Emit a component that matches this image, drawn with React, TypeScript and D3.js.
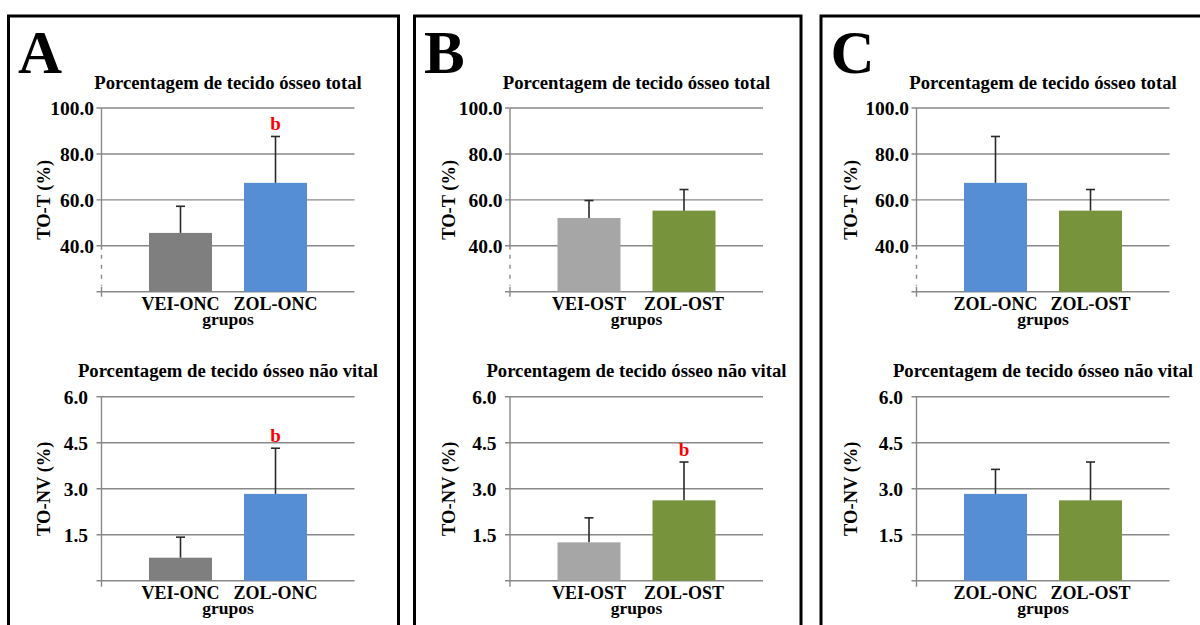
import React, { useEffect, useRef } from 'react';
import * as d3 from 'd3';

// panel letters and groups
const panelLetters = ['A', 'B', 'C'];
const groupsA = ['VEI-ONC', 'ZOL-ONC'];
const groupsB = ['VEI-OST', 'ZOL-OST'];
const groupsC = ['ZOL-ONC', 'ZOL-OST'];

// TO-T (%) means and +SD
const totalA = [45.6, 67.4];
const totalErrA = [11.6, 20.2];
const totalB = [52.1, 55.3];
const totalErrB = [7.6, 9.2];
const totalC = [67.4, 55.3];
const totalErrC = [20.2, 9.2];

// TO-NV (%) means and +SD
const nvA = [0.75, 2.83];
const nvErrA = [0.67, 1.49];
const nvB = [1.25, 2.62];
const nvErrB = [0.8, 1.25];
const nvC = [2.83, 2.62];
const nvErrC = [0.8, 1.25];

// significance letters
const sigTotalA = ['', 'b'];
const sigTotalB = ['', ''];
const sigTotalC = ['', ''];
const sigNvA = ['', 'b'];
const sigNvB = ['', 'b'];
const sigNvC = ['', ''];

const totalTicks = [40, 60, 80, 100];
const totalDomain = [20, 100];
const nvTicks = [1.5, 3.0, 4.5, 6.0];
const nvDomain = [0, 6];

const titleTotal = 'Porcentagem de tecido ósseo total';
const titleNv = 'Porcentagem de tecido ósseo não vital';
const yLabelTotal = 'TO-T (%)';
const yLabelNv = 'TO-NV (%)';
const xLabel = 'grupos';

const groupColors: Record<string, string> = {
  'VEI-ONC': '#7f7f7f',
  'ZOL-ONC': '#558ed5',
  'VEI-OST': '#a6a6a6',
  'ZOL-OST': '#77933c',
};

const FONT = '"Liberation Serif", "Times New Roman", serif';
const W = 1200;
const H = 625;
const PLOT_W = 253;

const panels = [
  { x0: 8.5, x1: 398.5, axisX: 101.5, yLabDx: -58, groups: groupsA,
    total: totalA, totalErr: totalErrA, sigTotal: sigTotalA, nv: nvA, nvErr: nvErrA, sigNv: sigNvA },
  { x0: 414.5, x1: 801, axisX: 510, yLabDx: -61, groups: groupsB,
    total: totalB, totalErr: totalErrB, sigTotal: sigTotalB, nv: nvB, nvErr: nvErrB, sigNv: sigNvB },
  { x0: 821, x1: 1215, axisX: 916.5, yLabDx: -66, groups: groupsC,
    total: totalC, totalErr: totalErrC, sigTotal: sigTotalC, nv: nvC, nvErr: nvErrC, sigNv: sigNvC },
];

type ChartOpts = {
  axisX: number;
  top: number;
  bottom: number;
  domain: number[];
  ticks: number[];
  title: string;
  yLabel: string;
  yLabDx: number;
  labelPad: number;
  groups: string[];
  values: number[];
  errs: number[];
  sig: string[];
  broken: boolean;
};

function drawChart(svg: any, o: ChartOpts) {
  const g = svg.append('g');
  const x = d3.scaleBand<string>()
    .domain(o.groups)
    .range([o.axisX, o.axisX + PLOT_W])
    .paddingInner(0.337)
    .paddingOuter(0.5);
  const y = d3.scaleLinear().domain(o.domain).range([o.bottom, o.top]);
  const grid = '#888888';

  // title
  g.append('text')
    .attr('x', o.axisX + PLOT_W / 2)
    .attr('y', o.top - 19.5)
    .attr('text-anchor', 'middle')
    .attr('font-family', FONT)
    .attr('font-weight', 'bold')
    .attr('font-size', 18.7)
    .text(o.title);

  // gridlines + ticks
  const lines = [o.domain[0], ...o.ticks];
  g.selectAll('line.grid')
    .data(lines)
    .enter().append('line')
    .attr('class', 'grid')
    .attr('x1', o.axisX - 5)
    .attr('x2', o.axisX + PLOT_W)
    .attr('y1', (d: number) => y(d))
    .attr('y2', (d: number) => y(d))
    .attr('stroke', grid)
    .attr('stroke-width', 1.4);

  g.selectAll('text.tick')
    .data(o.ticks)
    .enter().append('text')
    .attr('class', 'tick')
    .attr('x', o.axisX - o.labelPad)
    .attr('y', (d: number) => y(d))
    .attr('dy', '0.35em')
    .attr('text-anchor', 'end')
    .attr('font-family', FONT)
    .attr('font-weight', 'bold')
    .attr('font-size', 19.5)
    .text((d: number) => d3.format('.1f')(d));

  // y axis
  const base = y(o.domain[0]);
  if (o.broken) {
    const yb = y(o.ticks[0]);
    g.append('line').attr('x1', o.axisX).attr('x2', o.axisX)
      .attr('y1', o.top).attr('y2', yb + 4)
      .attr('stroke', grid).attr('stroke-width', 1.4);
    g.append('line').attr('x1', o.axisX).attr('x2', o.axisX)
      .attr('y1', yb + 9).attr('y2', base - 6)
      .attr('stroke', grid).attr('stroke-width', 1.4)
      .attr('stroke-dasharray', '4,6');
    g.append('line').attr('x1', o.axisX).attr('x2', o.axisX)
      .attr('y1', base - 5).attr('y2', base + 5)
      .attr('stroke', grid).attr('stroke-width', 1.4);
  } else {
    g.append('line').attr('x1', o.axisX).attr('x2', o.axisX)
      .attr('y1', o.top).attr('y2', base + 6)
      .attr('stroke', grid).attr('stroke-width', 1.4);
  }

  // y label
  const midY = (o.top + o.bottom) / 2;
  g.append('text')
    .attr('transform', `translate(${o.axisX + o.yLabDx},${midY}) rotate(-90)`)
    .attr('dy', '0.35em')
    .attr('text-anchor', 'middle')
    .attr('font-family', FONT)
    .attr('font-weight', 'bold')
    .attr('font-size', 18.5)
    .text(o.yLabel);

  // bars
  const data = o.groups.map((k, i) => ({ k, v: o.values[i], e: o.errs[i], s: o.sig[i] }));
  g.selectAll('rect.bar')
    .data(data)
    .enter().append('rect')
    .attr('class', 'bar')
    .attr('x', (d: any) => x(d.k))
    .attr('width', x.bandwidth())
    .attr('y', (d: any) => y(d.v))
    .attr('height', (d: any) => base - y(d.v))
    .attr('fill', (d: any) => groupColors[d.k]);

  // error bars (upper only)
  const eb = g.selectAll('g.err').data(data).enter().append('g').attr('class', 'err');
  eb.append('line')
    .attr('x1', (d: any) => x(d.k)! + x.bandwidth() / 2)
    .attr('x2', (d: any) => x(d.k)! + x.bandwidth() / 2)
    .attr('y1', (d: any) => y(d.v))
    .attr('y2', (d: any) => y(d.v + d.e))
    .attr('stroke', '#2a2a2a')
    .attr('stroke-width', 1.6);
  eb.append('line')
    .attr('x1', (d: any) => x(d.k)! + x.bandwidth() / 2 - 4.5)
    .attr('x2', (d: any) => x(d.k)! + x.bandwidth() / 2 + 4.5)
    .attr('y1', (d: any) => y(d.v + d.e))
    .attr('y2', (d: any) => y(d.v + d.e))
    .attr('stroke', '#2a2a2a')
    .attr('stroke-width', 1.6);

  // significance letters
  g.selectAll('text.sig')
    .data(data.filter((d) => d.s))
    .enter().append('text')
    .attr('class', 'sig')
    .attr('x', (d: any) => x(d.k)! + x.bandwidth() / 2)
    .attr('y', (d: any) => y(d.v + d.e) - 6.5)
    .attr('text-anchor', 'middle')
    .attr('font-family', FONT)
    .attr('font-weight', 'bold')
    .attr('font-size', 19)
    .attr('fill', '#ff0000')
    .text((d: any) => d.s);

  // category labels
  g.selectAll('text.cat')
    .data(o.groups)
    .enter().append('text')
    .attr('class', 'cat')
    .attr('x', (d: string) => x(d)! + x.bandwidth() / 2)
    .attr('y', base + 18.5)
    .attr('text-anchor', 'middle')
    .attr('font-family', FONT)
    .attr('font-weight', 'bold')
    .attr('font-size', 18)
    .text((d: string) => d);

  g.append('text')
    .attr('x', o.axisX + PLOT_W / 2)
    .attr('y', base + 33.5)
    .attr('text-anchor', 'middle')
    .attr('font-family', FONT)
    .attr('font-weight', 'bold')
    .attr('font-size', 17.5)
    .text(xLabel);
}

export default function App() {
  const ref = useRef<SVGSVGElement>(null);

  useEffect(() => {
    const svg = d3.select(ref.current);
    svg.selectAll('*').remove();

    panels.forEach((p, i) => {
      // panel frame
      svg.append('rect')
        .attr('x', p.x0)
        .attr('y', 16)
        .attr('width', p.x1 - p.x0)
        .attr('height', H + 40)
        .attr('fill', 'none')
        .attr('stroke', '#000')
        .attr('stroke-width', 3);

      svg.append('text')
        .attr('x', p.x0 + 9.5)
        .attr('y', 73)
        .attr('font-family', FONT)
        .attr('font-weight', 'bold')
        .attr('font-size', 61)
        .text(panelLetters[i]);

      drawChart(svg, {
        axisX: p.axisX, top: 108, bottom: 291.7,
        domain: totalDomain, ticks: totalTicks,
        title: titleTotal, yLabel: yLabelTotal, yLabDx: p.yLabDx, labelPad: 7.5,
        groups: p.groups, values: p.total, errs: p.totalErr, sig: p.sigTotal, broken: true,
      });

      drawChart(svg, {
        axisX: p.axisX, top: 396.7, bottom: 580.7,
        domain: nvDomain, ticks: nvTicks,
        title: titleNv, yLabel: yLabelNv, yLabDx: p.yLabDx, labelPad: 13.5,
        groups: p.groups, values: p.nv, errs: p.nvErr, sig: p.sigNv, broken: false,
      });
    });
  }, []);

  return (
    <svg
      ref={ref}
      width={W}
      height={H}
      style={{ position: 'absolute', left: 0, top: 0, background: '#fff' }}
    />
  );
}
